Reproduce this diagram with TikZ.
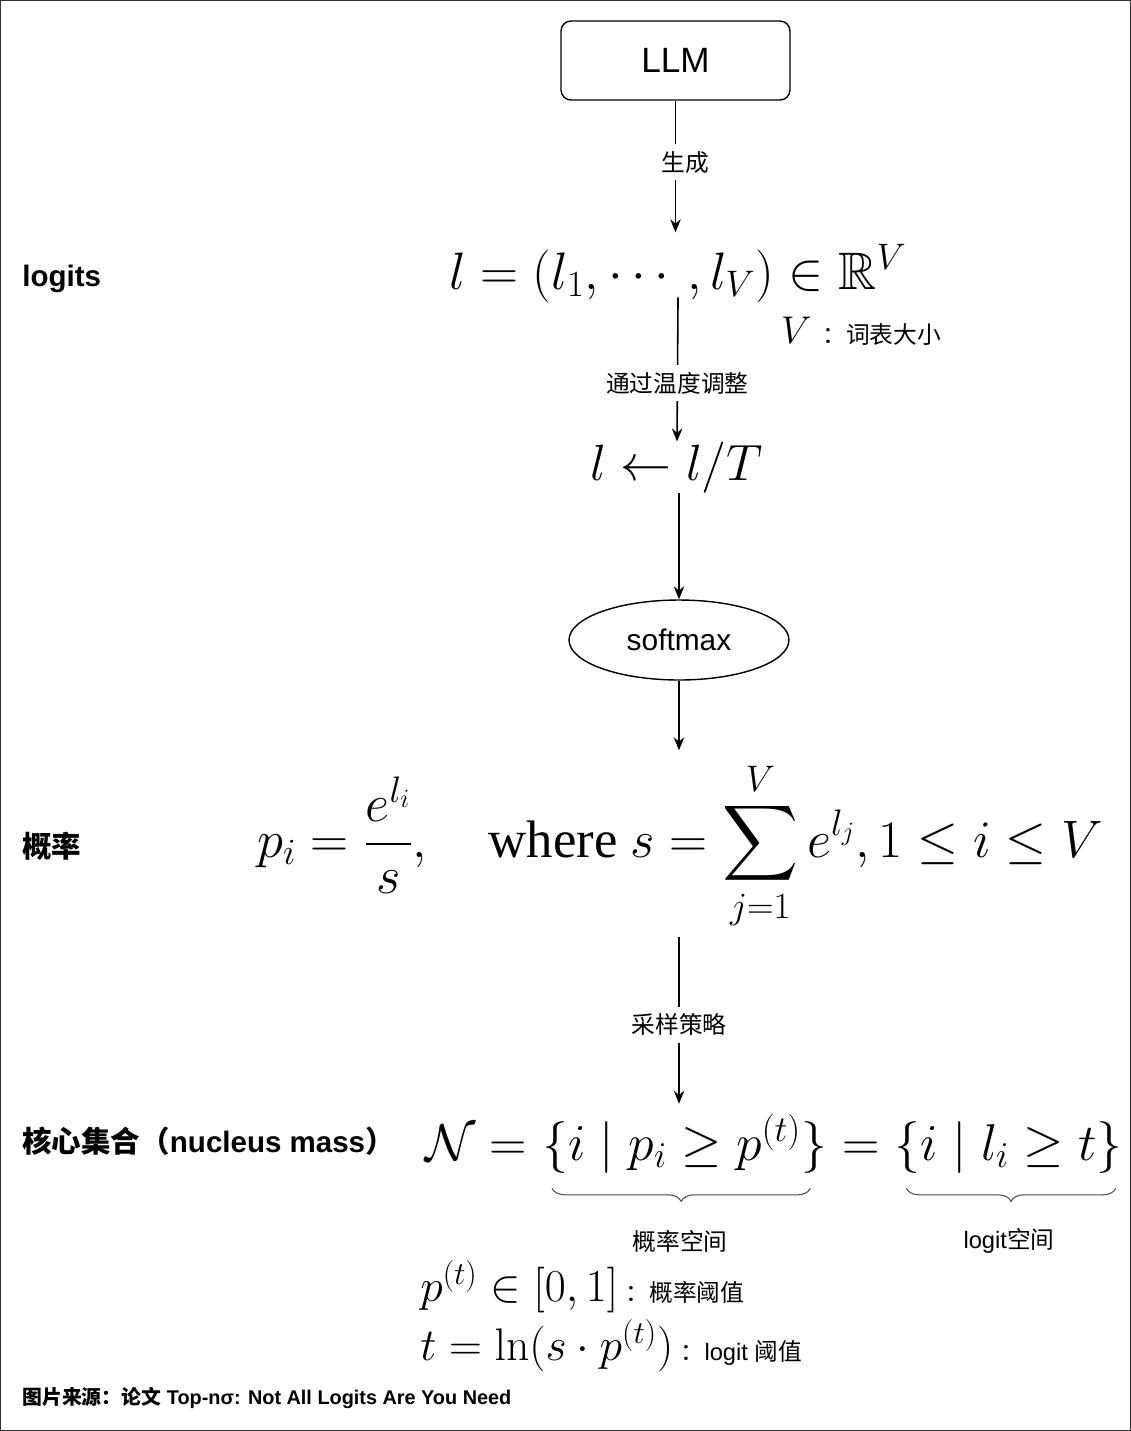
\RequirePackage{fix-cm}
\documentclass[tikz,border=0pt]{standalone}
\usepackage{amsmath}
\usepackage{amssymb}
\usepackage[no-math]{fontspec}
\setmainfont{Liberation Sans}
\newfontfamily\cjk{Noto Sans CJK SC}
\newfontfamily\timesrm{Liberation Serif}
\usetikzlibrary{shapes.geometric, arrows, arrows.meta, positioning, calc, decorations.pathreplacing}
\tikzstyle{stage} = [rectangle, rounded corners=0.2cm, minimum width=4.58cm, minimum height=1.58cm, draw=black, line width=0.8pt, font=\fontsize{20}{24}\selectfont]
\tikzstyle{oper} = [ellipse, minimum width=4.4cm, minimum height=1.6cm, inner sep=0pt, draw=black, line width=0.8pt, font=\fontsize{17}{20}\selectfont]
\tikzstyle{formula} = [inner sep=0pt, font=\fontsize{30}{36}\selectfont]
\tikzstyle{setpart} = [formula, anchor=base west, font=\fontsize{29.5}{35}\selectfont]
\tikzstyle{subformula} = [inner sep=0pt, font=\fontsize{26}{30}\selectfont]
\tikzstyle{tag} = [anchor=west, inner sep=0pt, font=\fontsize{16.8}{20}\selectfont\bfseries]
\tikzstyle{lbl} = [fill=white, inner sep=4pt, font=\fontsize{13.5}{16}\selectfont\cjk]
\tikzstyle{note} = [font=\fontsize{13.5}{16}\selectfont]
\tikzstyle{arrow} = [line width=0.9pt,->,>={Stealth[length=0.26cm,width=0.21cm]}]
\tikzstyle{brace} = [decorate, decoration={brace, mirror, amplitude=0.26cm}, line width=0.6pt, black!70]

\begin{document}
\begin{tikzpicture}[x=0.02cm, y=-0.02cm]
  % Frame
  \useasboundingbox (0,0) rectangle (1131,1431);
  \draw[black!80, line width=1pt] (0.5,0.5) rectangle (1130.5,1430.5);

  % Pipeline
  \node[stage] (llm) at (675.5,60.5) {LLM};
  \node[formula, anchor=base] (logit) at (678,289) {$l=(l_1,\cdots,l_V)\in\mathbb{R}^V$};
  \node[anchor=base west] (vocab) at (775,343) {\fontsize{22}{26}\selectfont$V$\ {\fontsize{13.5}{16}\selectfont\cjk ：词表大小}};
  \node[formula, anchor=base, font=\fontsize{29}{34}\selectfont] (temp) at (677,480) {$l\leftarrow l/T$};
  \node[oper] (softmax) at (679,640) {softmax};
  \node[formula, anchor=base] (prob) at (680,857) {$\displaystyle p_i=\frac{e^{l_i}}{s},\quad\text{\timesrm where }s=\sum_{j=1}^{V}e^{l_j},1\le i\le V$};

  % Nucleus set
  \node[setpart] (nsym) at (425,1160) {$\mathcal{N}={}$};
  \node[setpart] (pset) at (nsym.base east) {$\{i\mid p_i\ge p^{(t)}\}$};
  \node[setpart] (eqs) at (pset.base east) {${}={}$};
  \node[setpart] (lset) at (eqs.base east) {$\{i\mid l_i\ge t\}$};
  \draw[brace] ([xshift=0.2cm,yshift=-0.3cm]pset.south west) -- ([xshift=-0.34cm,yshift=-0.3cm]pset.south east);
  \draw[brace] ([xshift=0.24cm,yshift=-0.3cm]lset.south west) -- ([xshift=-0.14cm,yshift=-0.3cm]lset.south east);
  \node[note] (pspace) at (680,1241) {\cjk 概率空间};
  \node[note] (lspace) at (1009,1241) {logit{\cjk 空间}};

  % Thresholds
  \node[subformula, anchor=base west] (pthr) at (420,1301) {$p^{(t)}\in[0,1]$\,{\fontsize{13.5}{16}\selectfont\cjk ：概率阈值}};
  \node[subformula, anchor=base west] (tthr) at (420,1360) {$t=\ln(s\cdot p^{(t)})$\,{\fontsize{13.5}{16}\selectfont{\cjk ：}logit {\cjk 阈值}}};

  % Row labels
  \node[tag] (tlogits) at (22,279) {logits};
  \node[tag] (tprob) at (22,846) {\cjk 概率};
  \node[tag] (tnuc) at (22,1141) {{\cjk 核心集合（}nucleus mass{\cjk ）}};

  % Source
  \node[anchor=base west, inner sep=0pt, font=\fontsize{11.3}{14}\selectfont\bfseries] (source) at (22,1404) {{\cjk 图片来源：论文} Top-nσ: Not All Logits Are You Need};

  % Arrows
  \draw[arrow, shorten >=0.24cm] (llm.south) -- node[lbl, pos=0.43, xshift=0.2cm] {生成} (llm.south |- logit.north);
  \draw[arrow, shorten <=-0.1cm] (logit.south) -- node[lbl, pos=0.58] {通过温度调整} (temp.north);
  \draw[arrow] (temp.south -| softmax) -- (softmax.north);
  \draw[arrow, shorten >=0.2cm] (softmax.south) -- (softmax.south |- prob.north);
  \draw[arrow, shorten <=0.1cm, shorten >=0.2cm] (prob.south -| softmax) -- node[lbl, pos=0.51] {采样策略} (softmax |- pset.north);
\end{tikzpicture}
\end{document}
